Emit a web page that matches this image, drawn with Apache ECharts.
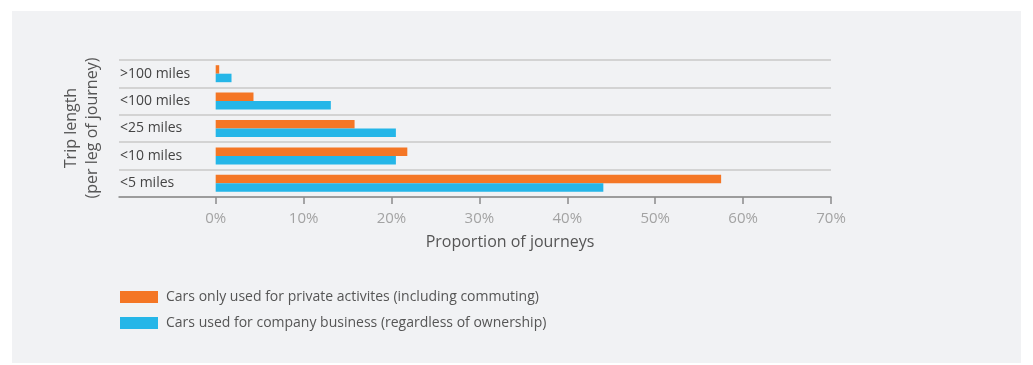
<!DOCTYPE html>
<html>
<head>
<meta charset="utf-8">
<script src="https://cdn.jsdelivr.net/npm/echarts@6/dist/echarts.min.js"></script>
<style>
  html, body { margin: 0; padding: 0; background: #ffffff; }
  #chart { width: 1033px; height: 365px; }
</style>
</head>
<body>
<div id="chart"></div>
<script>
// Trip length bands, bottom to top
const categories = ['<5 miles', '<10 miles', '<25 miles', '<100 miles', '>100 miles'];
// Share of journeys (%) in each band
const privateCars = [57.5, 21.8, 15.8, 4.3, 0.4];
const businessCars = [44.1, 20.5, 20.5, 13.1, 1.8];
const xTicks = [0, 10, 20, 30, 40, 50, 60, 70];

const seriesNames = [
  'Cars only used for private activites (including commuting)',
  'Cars used for company business (regardless of ownership)'
];

const FONT = '"Open Sans", "Noto Sans", sans-serif';

const chart = echarts.init(document.getElementById('chart'), null, { renderer: 'canvas' });

chart.setOption({
  backgroundColor: '#ffffff',
  animation: false,
  textStyle: { fontFamily: FONT },
  graphic: [
    {
      type: 'rect',
      z: -10,
      silent: true,
      shape: { x: 12, y: 11, width: 1009, height: 352 },
      style: { fill: '#f1f2f4' }
    },
    {
      type: 'text',
      silent: true,
      rotation: Math.PI / 2,
      x: 82,
      y: 128,
      style: {
        text: 'Trip length\n(per leg of journey)',
        fontFamily: FONT,
        fontSize: 16,
        lineHeight: 21,
        fill: '#555555',
        align: 'center',
        verticalAlign: 'middle'
      }
    }
  ],
  title: {
    text: 'Proportion of journeys',
    left: 510,
    top: 234,
    padding: 0,
    textAlign: 'center',
    textStyle: { fontFamily: FONT, fontSize: 16, fontWeight: 'normal', color: '#555555' }
  },
  legend: {
    orient: 'vertical',
    left: 120,
    top: 290,
    padding: 0,
    itemWidth: 38,
    itemHeight: 12,
    itemGap: 12,
    icon: 'rect',
    data: seriesNames,
    textStyle: { fontFamily: FONT, fontSize: 14, color: '#555555', padding: [0, 0, 0, 3] }
  },
  grid: { left: 119, right: 202, top: 60, bottom: 168, containLabel: false },
  xAxis: {
    type: 'value',
    min: -11,
    max: 70,
    axisLine: { show: true, lineStyle: { color: '#8a8a8a', width: 1.5 } },
    axisTick: { show: true, length: 7, customValues: xTicks, lineStyle: { color: '#8a8a8a', width: 1.5 } },
    axisLabel: {
      customValues: xTicks,
      formatter: v => v + '%',
      margin: 14,
      fontFamily: FONT,
      fontSize: 15,
      color: '#a3a3a3'
    },
    splitLine: { show: false }
  },
  yAxis: {
    type: 'category',
    data: categories,
    axisLine: { show: false },
    axisTick: { show: false },
    axisLabel: {
      inside: true,
      margin: 1,
      fontFamily: FONT,
      fontSize: 14,
      color: '#444444'
    },
    splitLine: { show: true, lineStyle: { color: '#c9c9c9', width: 1.5 } }
  },
  series: [
    {
      name: seriesNames[0],
      type: 'bar',
      data: privateCars,
      barWidth: 8.5,
      barGap: '0%',
      itemStyle: { color: '#f47625' }
    },
    {
      name: seriesNames[1],
      type: 'bar',
      data: businessCars,
      barWidth: 8.5,
      barGap: '0%',
      itemStyle: { color: '#25b6e8' }
    }
  ]
});
</script>
</body>
</html>
